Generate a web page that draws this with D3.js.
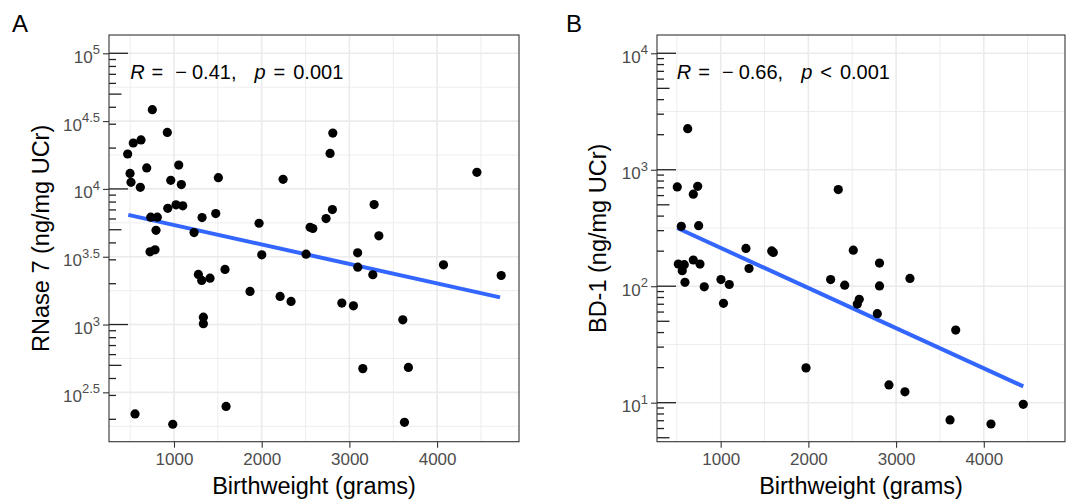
<!DOCTYPE html>
<html>
<head>
<meta charset="utf-8">
<script src="https://cdn.jsdelivr.net/npm/d3@7"></script>
<style>
  body { margin: 0; background: #fff; }
  svg { font-family: "Liberation Sans", Arial, Helvetica, sans-serif; }
</style>
</head>
<body>
<svg id="chart"></svg>
<script>
// Panel A: RNase 7 (ng/mg UCr) against birthweight (grams)
const rnaseWeight = [753, 924, 536, 624, 472, 1054, 499, 689, 510, 616, 963, 1084, 1506, 2244,
  929, 1023, 1100, 735, 810, 795, 1320, 1476, 1229, 1970, 2552, 2583, 727, 784, 2001, 2506,
  2811, 2780, 4454, 3282, 2806, 2734, 3336, 3094, 1278, 1316, 1411, 1582, 1867, 2210, 2335,
  1335, 1335, 556, 986, 1594, 3096, 3267, 4073, 4731, 2914, 3046, 3609, 3153, 3673, 3628];
const rnaseLevel = [38400, 26100, 21800, 22960, 18100, 15000, 13000, 14280, 11190, 10280, 11570, 10760, 12110, 11770,
  7195, 7630, 7500, 6185, 6185, 4955, 6150, 6580, 4765, 5585, 5215, 5105, 3436, 3556, 3266, 3300,
  25820, 18280, 13250, 7660, 7040, 6040, 4510, 3380, 2340, 2113, 2198, 2548, 1753, 1611, 1480,
  1133, 1013, 219, 184, 249, 2650, 2328, 2754, 2300, 1439, 1375, 1083, 473, 483, 190];
const rnaseFitWeight = [479, 4718];
const rnaseFitLevel = [6436, 1586];
const rnaseExponents = [2.5, 3, 3.5, 4, 4.5, 5];

// Panel B: BD-1 (ng/mg UCr) against birthweight (grams)
const bdWeight = [624, 505, 738, 688, 551, 749, 517, 585, 562, 688, 764, 593, 813, 1003, 1098,
  1032, 1288, 1323, 1582, 1600, 2341, 2254, 2414, 2512, 2580, 2558, 2811, 2811, 2786, 3158,
  3680, 2919, 3101, 4450, 3615, 4082, 1973];
const bdLevel = [2254, 712, 721, 617, 327, 331, 155, 153, 136, 168, 155, 108, 98.9, 114, 103.5,
  71.3, 211, 142, 201, 195, 676, 114, 102, 204, 77.1, 70.3, 158, 100.6, 58.1, 116.7,
  42.0, 14.2, 12.4, 9.68, 7.11, 6.56, 19.9];
const bdFitWeight = [505, 4450];
const bdFitLevel = [316, 13.8];
const bdExponents = [1, 2, 3, 4];

const weightTicks = [1000, 2000, 3000, 4000];

const width = 1070;
const height = 502;

const svg = d3.select("#chart").attr("width", width).attr("height", height);

const panels = [
  {
    tag: "A", left: 109, right: 519, top: 35, bottom: 441.7,
    xDomain: [259, 4934], yDomain: [Math.pow(10, 2.136), Math.pow(10, 5.135)],
    weight: rnaseWeight, level: rnaseLevel,
    fitX: rnaseFitWeight, fitY: rnaseFitLevel,
    exps: rnaseExponents,
    yTitle: "RNase 7 (ng/mg UCr)", r: "0.41", rel: "=",
    tagX: 12, titleX: 49
  },
  {
    tag: "B", left: 657, right: 1065, top: 35, bottom: 441.7,
    xDomain: [274, 4926], yDomain: [Math.pow(10, 0.665), Math.pow(10, 4.157)],
    weight: bdWeight, level: bdLevel,
    fitX: bdFitWeight, fitY: bdFitLevel,
    exps: bdExponents,
    yTitle: "BD-1 (ng/mg UCr)", r: "0.66", rel: "<",
    tagX: 566, titleX: 605.5
  }
];

panels.forEach((pn) => {
  const g = svg.append("g");

  const xScale = d3.scaleLinear().domain(pn.xDomain).range([pn.left, pn.right]);
  const yScale = d3.scaleLog().domain(pn.yDomain).range([pn.bottom, pn.top]);

  const lo = Math.log10(pn.yDomain[0]);
  const hi = Math.log10(pn.yDomain[1]);
  const step = pn.exps[1] - pn.exps[0];

  // minor grid: halfway between breaks
  const xMinor = d3.range(500, 5000, 1000).filter((v) => v > pn.xDomain[0] && v < pn.xDomain[1]);
  const yMinor = d3.range(Math.floor(lo) - 1, Math.ceil(hi) + 1, step / 2)
    .filter((e) => e > lo && e < hi && !pn.exps.some((b) => Math.abs(b - e) < 1e-9));

  g.selectAll(".minor-x").data(xMinor).enter().append("line")
    .attr("x1", (d) => xScale(d)).attr("x2", (d) => xScale(d))
    .attr("y1", pn.top).attr("y2", pn.bottom)
    .style("stroke", "#ebebeb").style("stroke-width", 0.9);
  g.selectAll(".minor-y").data(yMinor).enter().append("line")
    .attr("x1", pn.left).attr("x2", pn.right)
    .attr("y1", (d) => yScale(Math.pow(10, d))).attr("y2", (d) => yScale(Math.pow(10, d)))
    .style("stroke", "#ebebeb").style("stroke-width", 0.9);

  g.selectAll(".major-x").data(weightTicks).enter().append("line")
    .attr("x1", (d) => xScale(d)).attr("x2", (d) => xScale(d))
    .attr("y1", pn.top).attr("y2", pn.bottom)
    .style("stroke", "#ebebeb").style("stroke-width", 1.6);
  g.selectAll(".major-y").data(pn.exps).enter().append("line")
    .attr("x1", pn.left).attr("x2", pn.right)
    .attr("y1", (d) => yScale(Math.pow(10, d))).attr("y2", (d) => yScale(Math.pow(10, d)))
    .style("stroke", "#ebebeb").style("stroke-width", 1.6);

  // log ticks along the left side
  const logTicks = [];
  for (let dec = Math.floor(lo); dec <= Math.ceil(hi); dec++) {
    for (let m = 1; m <= 9; m++) {
      const v = m * Math.pow(10, dec);
      const e = Math.log10(v);
      if (e >= lo && e <= hi) logTicks.push({ v, len: m === 1 ? 19 : m === 5 ? 12.5 : 7 });
    }
  }
  g.selectAll(".logtick").data(logTicks).enter().append("line")
    .attr("x1", pn.left).attr("x2", (d) => pn.left + d.len)
    .attr("y1", (d) => yScale(d.v)).attr("y2", (d) => yScale(d.v))
    .style("stroke", "#222").style("stroke-width", 1.3);

  // regression line
  g.append("line")
    .attr("x1", xScale(pn.fitX[0])).attr("y1", yScale(pn.fitY[0]))
    .attr("x2", xScale(pn.fitX[1])).attr("y2", yScale(pn.fitY[1]))
    .style("stroke", "#3366ff").style("stroke-width", 4);

  // points
  g.selectAll("circle").data(pn.weight).enter().append("circle")
    .attr("cx", (d) => xScale(d))
    .attr("cy", (d, i) => yScale(pn.level[i]))
    .attr("r", 4.6)
    .style("fill", "#000");

  // panel border
  g.append("rect")
    .attr("x", pn.left).attr("y", pn.top)
    .attr("width", pn.right - pn.left).attr("height", pn.bottom - pn.top)
    .style("fill", "none").style("stroke", "#333").style("stroke-width", 1.1);

  // axes
  const xAxis = d3.axisBottom(xScale).tickValues(weightTicks).tickSize(6).tickPadding(5)
    .tickFormat(d3.format("d"));
  const gx = g.append("g").attr("transform", `translate(0, ${pn.bottom})`).call(xAxis);
  gx.select(".domain").remove();
  gx.selectAll(".tick line").style("stroke", "#333").style("stroke-width", 1.1);
  gx.selectAll(".tick text").style("font-size", "17px").style("fill", "#4d4d4d")
    .style("font-family", null);

  const yAxis = d3.axisLeft(yScale).tickValues(pn.exps.map((e) => Math.pow(10, e)))
    .tickSize(6).tickPadding(3).tickFormat("");
  const gy = g.append("g").attr("transform", `translate(${pn.left}, 0)`).call(yAxis);
  gy.select(".domain").remove();
  gy.selectAll(".tick line").style("stroke", "#333").style("stroke-width", 1.1);
  gy.selectAll(".tick text").each(function (d) {
    const t = d3.select(this).text(null).attr("dy", null).attr("y", 9)
      .style("font-size", "17px").style("fill", "#4d4d4d").style("font-family", null);
    t.append("tspan").text("10");
    t.append("tspan").attr("dy", -8.5).style("font-size", "13px")
      .text(String(+Math.log10(d).toFixed(1)));
  });

  // correlation label, spaced like plotmath
  const lab = g.append("text")
    .attr("x", xScale(500)).attr("y", 79)
    .style("font-size", "20px").style("fill", "#000");
  lab.append("tspan").style("font-style", "italic").text("R");
  lab.append("tspan").attr("dx", 7).text("=");
  lab.append("tspan").attr("dx", 12).text("\u2212");
  lab.append("tspan").attr("dx", 5).text(pn.r + ",");
  lab.append("tspan").attr("dx", 18).style("font-style", "italic").text("p");
  lab.append("tspan").attr("dx", 8).text(pn.rel);
  lab.append("tspan").attr("dx", 8).text("0.001");

  // axis titles
  g.append("text")
    .attr("x", (pn.left + pn.right) / 2).attr("y", 494)
    .attr("text-anchor", "middle")
    .style("font-size", "23.5px").style("fill", "#000")
    .text("Birthweight (grams)");
  g.append("text")
    .attr("transform", `translate(${pn.titleX}, ${(pn.top + pn.bottom) / 2}) rotate(-90)`)
    .attr("text-anchor", "middle")
    .style("font-size", "23.5px").style("fill", "#000")
    .text(pn.yTitle);

  // panel tag
  g.append("text")
    .attr("x", pn.tagX).attr("y", 32)
    .style("font-size", "24px").style("fill", "#000")
    .text(pn.tag);
});
</script>
</body>
</html>
